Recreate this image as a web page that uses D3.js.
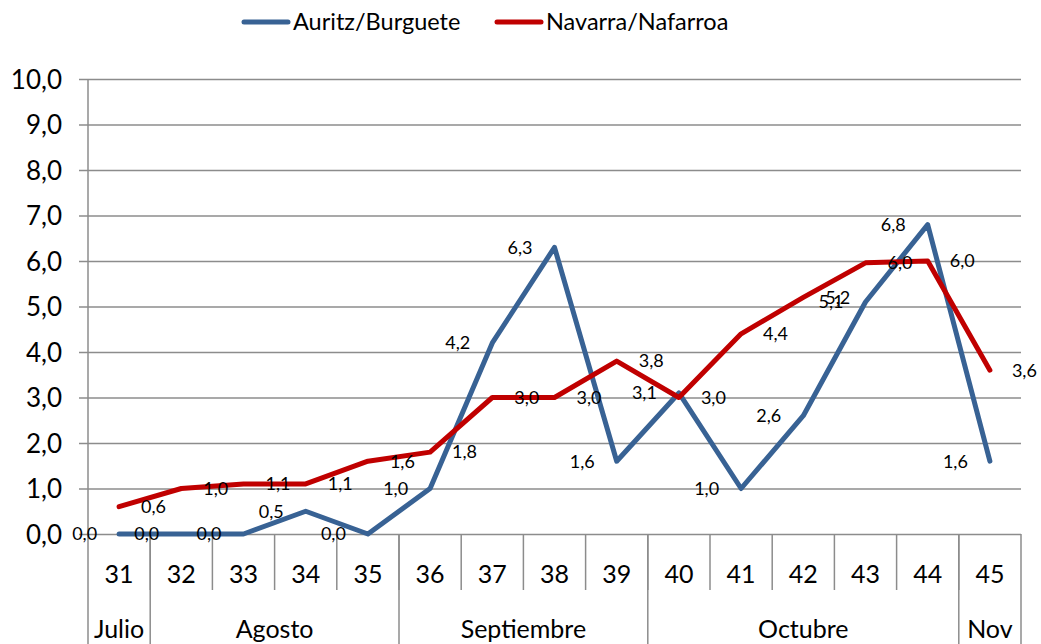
<!DOCTYPE html>
<html>
<head>
<meta charset="utf-8">
<script src="https://cdn.jsdelivr.net/npm/d3@7"></script>
<style>
  body { margin: 0; background: #fff; }
  svg { display: block; font-family: Lato, "Open Sans", sans-serif; }
</style>
</head>
<body>
<svg width="1041" height="644"></svg>
<script>
const weeks = ['31','32','33','34','35','36','37','38','39','40','41','42','43','44','45']
const months = ['Julio','Agosto','Septiembre','Octubre','Nov']
const monthSpans = [1, 4, 4, 5, 1]
const auritz = [0.0, 0.0, 0.0, 0.5, 0.0, 1.0, 4.2, 6.3, 1.6, 3.1, 1.0, 2.6, 5.1, 6.8, 1.6]
const navarra = [0.6, 1.0, 1.1, 1.1, 1.6, 1.8, 3.0, 3.0, 3.8, 3.0, 4.4, 5.2, 5.96, 6.0, 3.6]
const yTicks = [0,1,2,3,4,5,6,7,8,9,10]

const series = [
    { name: 'Auritz/Burguete', values: auritz, color: '#386294', side: 'left' },
    { name: 'Navarra/Nafarroa', values: navarra, color: '#c00000', side: 'right' }
]

const svg = d3.select('svg')
const plotLeft = 88, plotRight = 1021, plotTop = 79, plotBottom = 534
const gridColor = '#8c8c8c'
const fmt = v => d3.format('.1f')(v).replace('.', ',')

const x = d3.scaleBand().domain(weeks).range([plotLeft, plotRight]).padding(0)
const y = d3.scaleLinear().domain([0, 10]).range([plotBottom, plotTop])
const cx = (d, i) => x(weeks[i]) + x.bandwidth() / 2

//gridlines + y axis
const yAxis = d3.axisLeft(y)
    .tickValues(yTicks)
    .tickSize(-(plotRight - plotLeft))
    .tickFormat(fmt)
const gy = svg.append('g')
    .attr('transform', `translate(${plotLeft},0)`)
    .call(yAxis)
gy.select('.domain').remove()
gy.selectAll('.tick line')
    .attr('x1', -9)
    .attr('stroke', gridColor)
    .attr('stroke-width', 1.5)
gy.selectAll('.tick text')
    .attr('x', -26)
    .attr('dy', '0.35em')
    .attr('font-size', 26)
    .attr('font-family', 'Lato')
    .attr('fill', '#000')

//vertical axis line
svg.append('line')
    .attr('x1', plotLeft).attr('x2', plotLeft)
    .attr('y1', plotTop).attr('y2', 644)
    .attr('stroke', gridColor).attr('stroke-width', 1.5)

//week separators + labels
const weekEdges = weeks.map(w => x(w)).slice(1)
svg.selectAll('.wsep')
    .data(weekEdges)
    .enter().append('line')
    .attr('x1', d => d).attr('x2', d => d)
    .attr('y1', plotBottom).attr('y2', 590)
    .attr('stroke', gridColor).attr('stroke-width', 1.5)
svg.selectAll('.wlabel')
    .data(weeks)
    .enter().append('text')
    .attr('x', d => x(d) + x.bandwidth() / 2)
    .attr('y', 583)
    .attr('text-anchor', 'middle')
    .attr('font-size', 25)
    .text(d => d)

//month separators + labels
let acc = 0
const monthRanges = monthSpans.map(n => {
    const r = [acc, acc + n]
    acc += n
    return r
})
const edgeX = i => i < weeks.length ? x(weeks[i]) : plotRight
svg.selectAll('.msep')
    .data(monthRanges)
    .enter().append('line')
    .attr('x1', d => edgeX(d[1])).attr('x2', d => edgeX(d[1]))
    .attr('y1', plotBottom).attr('y2', 644)
    .attr('stroke', gridColor).attr('stroke-width', 1.5)
svg.selectAll('.mlabel')
    .data(months)
    .enter().append('text')
    .attr('x', (d, i) => (edgeX(monthRanges[i][0]) + edgeX(monthRanges[i][1])) / 2)
    .attr('y', 638)
    .attr('text-anchor', 'middle')
    .attr('font-size', 25)
    .text(d => d)

//lines
const line = d3.line()
    .x(cx)
    .y(d => y(d))
series.forEach(s => {
    svg.append('path')
        .datum(s.values)
        .attr('d', line)
        .attr('fill', 'none')
        .attr('stroke', s.color)
        .attr('stroke-width', 5)
        .attr('stroke-linejoin', 'round')
        .attr('stroke-linecap', 'round')
})

//data labels
series.forEach(s => {
    svg.selectAll(null)
        .data(s.values)
        .enter().append('text')
        .attr('x', (d, i) => cx(d, i) + (s.side === 'left' ? -22 : 22))
        .attr('y', d => y(d))
        .attr('dy', '0.35em')
        .attr('text-anchor', s.side === 'left' ? 'end' : 'start')
        .attr('font-size', 18)
        .text(fmt)
})

//legend
const legendPos = [242, 495]
series.forEach((s, i) => {
    const g = svg.append('g').attr('transform', `translate(${legendPos[i]},22)`)
    g.append('line')
        .attr('x1', 2).attr('x2', 46)
        .attr('stroke', s.color)
        .attr('stroke-width', 5)
        .attr('stroke-linecap', 'round')
    g.append('text')
        .attr('x', 51)
        .attr('dy', '0.35em')
        .attr('font-size', 23.5)
        .text(s.name)
})
</script>
</body>
</html>
